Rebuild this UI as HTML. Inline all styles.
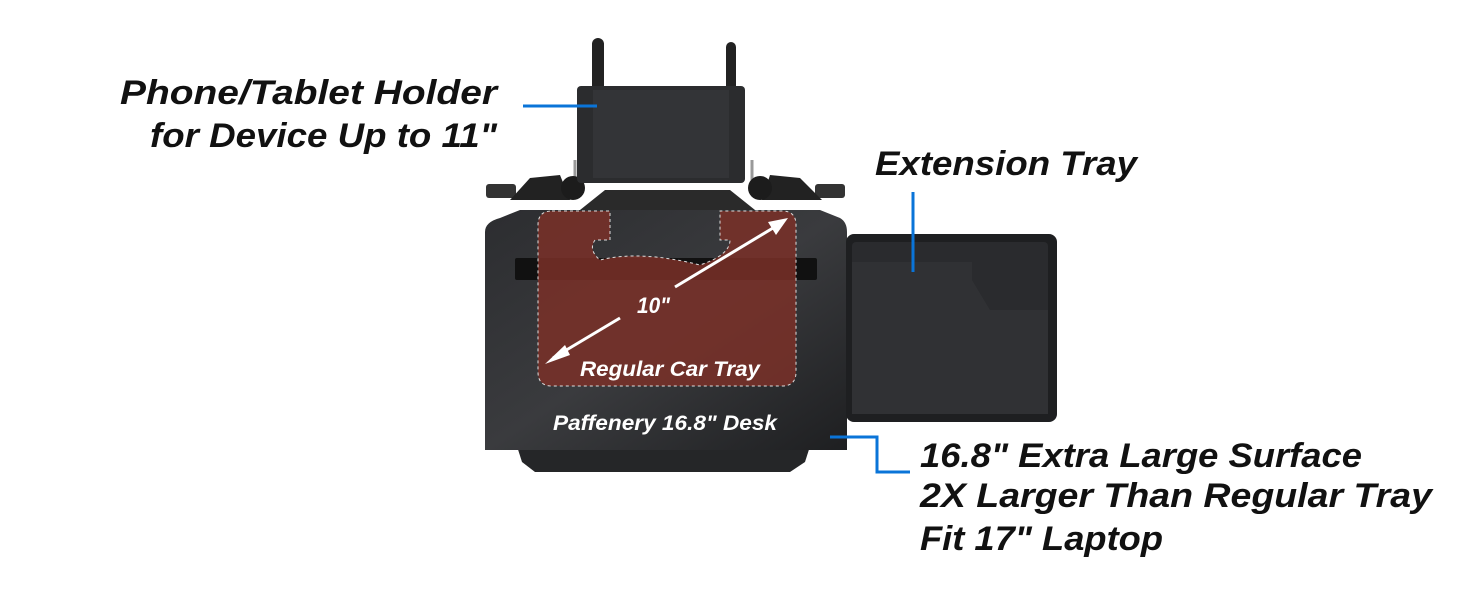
<!DOCTYPE html>
<html><head><meta charset="utf-8"><style>
html,body{margin:0;padding:0;background:#fff;}
body{width:1464px;height:600px;overflow:hidden;}
svg{display:block}
.lb{font-family:"Liberation Sans",sans-serif;font-weight:bold;font-style:italic;fill:#111;font-size:34px;}
.wt{font-family:"Liberation Sans",sans-serif;font-weight:bold;font-style:italic;fill:#fff;}
</style></head><body>
<svg width="1464" height="600" viewBox="0 0 1464 600" xmlns="http://www.w3.org/2000/svg">
<defs>
<linearGradient id="g1" x1="0" y1="0" x2="1" y2="1"><stop offset="0" stop-color="#2c2d30"/><stop offset="0.5" stop-color="#3a3b3e"/><stop offset="1" stop-color="#1e1f21"/></linearGradient>
</defs>
<rect x="592" y="38" width="12" height="60" rx="6" fill="#222"/>
<rect x="726" y="42" width="10" height="56" rx="5" fill="#222"/>
<path d="M575 160 L575 190 M752 160 L752 190" stroke="#999" stroke-width="3"/>
<rect x="486" y="184" width="30" height="14" rx="3" fill="#333"/>
<rect x="815" y="184" width="30" height="14" rx="3" fill="#333"/>
<path d="M510 200 L530 178 L560 175 L570 200 Z" fill="#222"/>
<path d="M762 200 L770 175 L800 178 L822 200 Z" fill="#222"/>
<circle cx="573" cy="188" r="12" fill="#1c1c1c"/>
<circle cx="760" cy="188" r="12" fill="#1c1c1c"/>
<path d="M580 210 L605 190 L730 190 L755 210 Z" fill="#2a2a2a"/>
<rect x="577" y="86" width="168" height="97" rx="4" fill="#2b2c2e"/>
<rect x="593" y="90" width="136" height="88" fill="#333437"/>
<path d="M515 440 L812 440 L805 462 L790 472 L535 472 L522 462 Z" fill="#252628"/>
<path d="M500 218 L520 210 L820 210 L840 218 Q847 222 847 232 L847 450 L485 450 L485 232 Q485 222 500 218 Z" fill="url(#g1)"/>
<rect x="515" y="258" width="302" height="22" rx="2" fill="#111"/>
<rect x="846" y="234" width="211" height="188" rx="8" fill="#1e1f21"/>
<rect x="852" y="242" width="196" height="172" rx="4" fill="#2a2b2e"/>
<path d="M852 262 L972 262 L972 280 L990 310 L1048 310 L1048 414 L852 414 Z" fill="#303134"/>
<path d="M552 211 L610 211 L610 240 L595 240 Q588 250 600 260 Q640 250 700 265 Q730 255 730 240 L720 240 L720 211 L782 211 Q796 211 796 225 L796 372 Q796 386 782 386 L552 386 Q538 386 538 372 L538 225 Q538 211 552 211 Z" fill="#7a3028" fill-opacity="0.85" stroke="#ddd" stroke-dasharray="3 3" stroke-width="1"/>
<line x1="553" y1="358" x2="620" y2="318" stroke="#fff" stroke-width="3"/>
<line x1="675" y1="287" x2="778" y2="225" stroke="#fff" stroke-width="3"/>
<polygon points="545,364 565,345 570,355" fill="#fff"/>
<polygon points="788,218 768,222 776,235" fill="#fff"/>
<text x="637" y="313" class="wt" font-size="22" textLength="33" lengthAdjust="spacingAndGlyphs">10"</text>
<text x="580" y="376" class="wt" font-size="21" textLength="180" lengthAdjust="spacingAndGlyphs">Regular Car Tray</text>
<text x="553" y="430" class="wt" font-size="21" textLength="224" lengthAdjust="spacingAndGlyphs">Paffenery 16.8" Desk</text>
<line x1="523" y1="106" x2="597" y2="106" stroke="#0a74d8" stroke-width="3"/>
<line x1="913" y1="192" x2="913" y2="272" stroke="#0a74d8" stroke-width="3"/>
<polyline points="830,437 877,437 877,472 910,472" fill="none" stroke="#0a74d8" stroke-width="3"/>
<text x="120" y="104" class="lb" textLength="377" lengthAdjust="spacingAndGlyphs">Phone/Tablet Holder</text>
<text x="150" y="147" class="lb" textLength="347" lengthAdjust="spacingAndGlyphs">for Device Up to 11"</text>
<text x="875" y="175" class="lb" textLength="262" lengthAdjust="spacingAndGlyphs">Extension Tray</text>
<text x="920" y="467" class="lb" textLength="442" lengthAdjust="spacingAndGlyphs">16.8" Extra Large Surface</text>
<text x="920" y="507" class="lb" textLength="512" lengthAdjust="spacingAndGlyphs">2X Larger Than Regular Tray</text>
<text x="920" y="550" class="lb" textLength="243" lengthAdjust="spacingAndGlyphs">Fit 17" Laptop</text>
</svg>
</body></html>
